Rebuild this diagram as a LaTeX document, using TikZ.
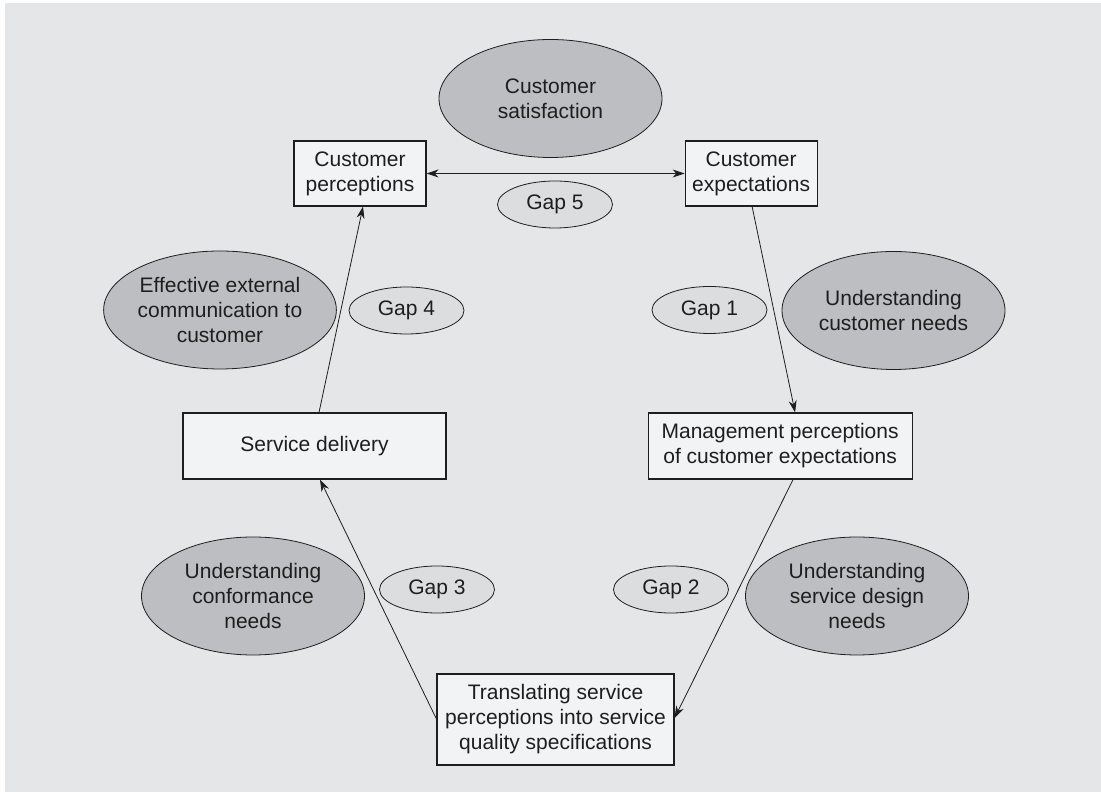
\documentclass[tikz,border=0pt]{standalone}
\usepackage{fontspec}
\setmainfont{Liberation Sans}
\usetikzlibrary{arrows.meta,positioning,shapes.geometric}
\definecolor{pagegray}{HTML}{E5E6E8}
\definecolor{boxfill}{HTML}{F2F3F5}
\definecolor{needfill}{HTML}{BDBEC1}
\definecolor{gapfill}{HTML}{DCDDDF}
\definecolor{ink}{HTML}{1E1E1E}

\begin{document}
\begin{tikzpicture}[
      x=1pt, y=1pt,
      >={Stealth[length=12pt,width=8pt]},
      font=\fontsize{21}{25}\selectfont,
      box/.style={draw=ink, line width=1.1pt, fill=boxfill, align=center,
        inner sep=0pt, text=ink},
      need/.style={ellipse, draw=ink, line width=0.8pt, fill=needfill, align=center,
        inner sep=0pt, minimum width=223pt, minimum height=118pt, text=ink},
      gap/.style={ellipse, draw=ink, line width=0.8pt, fill=gapfill, inner sep=0pt,
        minimum width=115pt, minimum height=47pt, text=ink},
      flow/.style={->, line width=0.8pt, draw=ink}
    ]
    \useasboundingbox (0,0) rectangle (1101,792);
    \fill[white] (0,0) rectangle (1101,792);
    \fill[pagegray] (5,0) rectangle (1101,789);

    % the five boxes of the loop
    \node[box, minimum width=132pt, minimum height=65pt] (perc) at (360,618.5) {Customer\\perceptions};
    \node[box, minimum width=132pt, minimum height=65pt, right=258pt of perc] (expect) {Customer\\expectations};
    \node[box, minimum width=263pt, minimum height=66pt] (deliv) at (314.5,346) {Service delivery};
    \node[box, minimum width=264pt, minimum height=66pt, right=201pt of deliv] (mgmt) {Management perceptions\\of customer expectations};
    \node[box, minimum width=237pt, minimum height=91pt] (transl) at (555.5,72.5) {Translating service\\perceptions into service\\quality specifications};

    % what closes each gap
    \node[need] (sat) at (550.5,693.5) {Customer\\satisfaction};
    \node[need] (extcomm) at (220,482) {Effective external\\communication to\\customer};
    \node[need] (custneeds) at (893.5,481.5) {Understanding\\customer needs};
    \node[need] (conform) at (253,196) {Understanding\\conformance\\needs};
    \node[need] (design) at (857,196) {Understanding\\service design\\needs};

    % gap labels
    \node[gap] (gap5) at (555,587.5) {Gap 5};
    \node[gap] (gap4) at (406.5,481.5) {Gap 4};
    \node[gap] (gap1) at (709.5,482) {Gap 1};
    \node[gap] (gap3) at (437,202.5) {Gap 3};
    \node[gap] (gap2) at (671,202.5) {Gap 2};

    \draw[flow, <->] (perc.east) -- (expect.west);
    \draw[flow] ([xshift=1pt]expect.south) -- ([xshift=15pt]mgmt.north);
    \draw[flow] ([xshift=13pt]mgmt.south) -- ([yshift=1.5pt]transl.east);
    \draw[flow] ([yshift=0.5pt]transl.west) -- ([xshift=5.5pt]deliv.south);
    \draw[flow] ([xshift=4.5pt]deliv.north) -- ([xshift=3pt]perc.south);
  \end{tikzpicture}
\end{document}
